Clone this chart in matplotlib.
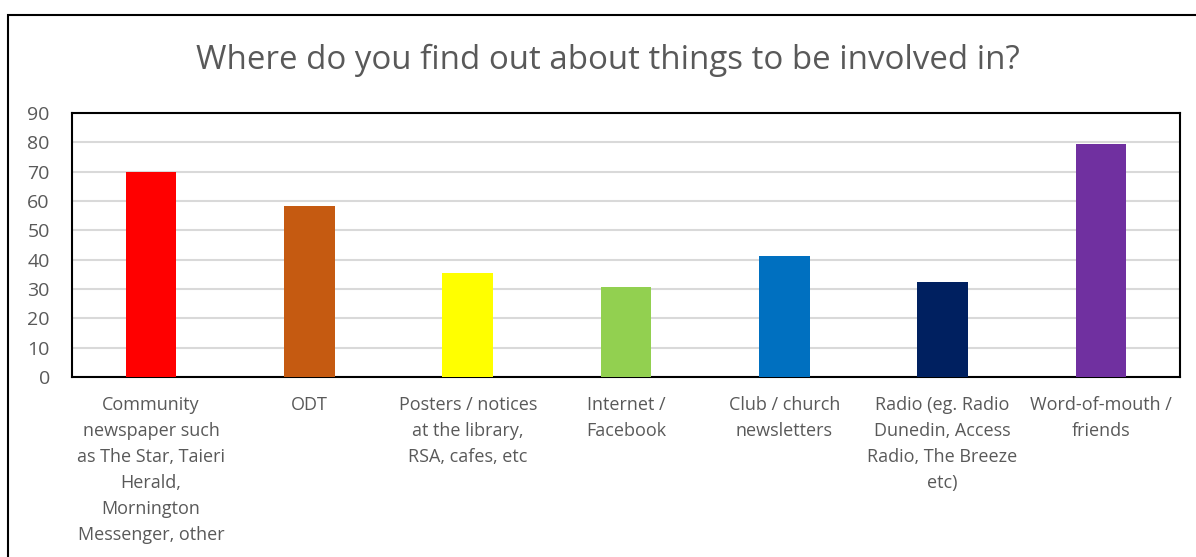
import matplotlib.pyplot as plt
import numpy as np
from matplotlib.patches import Rectangle

# survey responses per information source
categories = [
    "Community\nnewspaper such\nas The Star, Taieri\nHerald,\nMornington\nMessenger, other",
    "ODT",
    "Posters / notices\nat the library,\nRSA, cafes, etc",
    "Internet /\nFacebook",
    "Club / church\nnewsletters",
    "Radio (eg. Radio\nDunedin, Access\nRadio, The Breeze\netc)",
    "Word-of-mouth /\nfriends",
]
values = [70.0, 58.3, 35.4, 30.8, 41.1, 32.3, 79.3]
colors = ["#FF0000", "#C55A11", "#FFFF00", "#92D050", "#0070C0", "#002060", "#7030A0"]

TEXT = "#595959"
plt.rcParams["font.family"] = ["Open Sans", "DejaVu Sans"]

fig = plt.figure(figsize=(11.96, 5.57), dpi=100)
ax = fig.add_axes([72 / 1196, 1 - 377 / 557, (1180 - 72) / 1196, (377 - 113) / 557])

x = np.arange(len(values))
ax.bar(x, values, width=0.32, color=colors, zorder=3)

ax.set_xlim(-0.5, len(values) - 0.5)
ax.set_ylim(0, 90)
ax.set_yticks(np.arange(0, 91, 10))
ax.yaxis.grid(True, color="#d9d9d9", linewidth=1.5, zorder=0)
ax.set_xticks(x, categories)
ax.tick_params(axis="both", length=0, colors=TEXT, labelsize=13)
ax.tick_params(axis="x", pad=14)
ax.tick_params(axis="y", pad=16)
for lbl in ax.get_xticklabels():
    lbl.set_linespacing(1.57)
    lbl.set_verticalalignment("top")
for lbl in ax.get_yticklabels():
    lbl.set_fontsize(14)
for s in ax.spines.values():
    s.set_color("black")
    s.set_linewidth(1.5)

fig.text(0.508, 1 - 60 / 557, "Where do you find out about things to be involved in?",
         ha="center", va="center", fontsize=23.8, color=TEXT)

# chart frame, running off the right and bottom edges
fig.patches.append(Rectangle((8 / 1196, -0.1), 1.2, 1 - 15 / 557 + 0.1,
                             transform=fig.transFigure, fill=False,
                             edgecolor="black", linewidth=1.5))

fig.savefig("out.png", dpi=100)
